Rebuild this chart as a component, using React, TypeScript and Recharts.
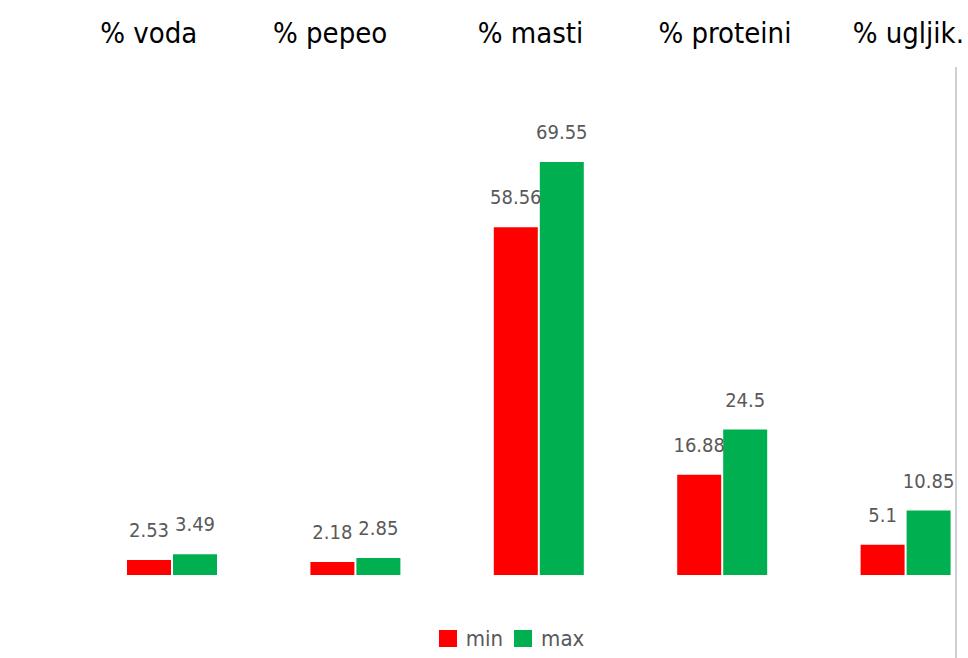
import React from "react";
import { BarChart, Bar, XAxis, YAxis, Legend, LabelList } from "recharts";

const categories = ["% voda", "% pepeo", "% masti", "% proteini", "% ugljik."];
const minValues = [2.53, 2.18, 58.56, 16.88, 5.1];
const maxValues = [3.49, 2.85, 69.55, 24.5, 10.85];
const seriesOrder = ["min", "max"];

const data = categories.map((name, i) => ({ name, min: minValues[i], max: maxValues[i] }));

const FONT = "'DejaVu Sans Condensed', 'DejaVu Sans', sans-serif";
const RED = "#FF0000";
const GREEN = "#00B050";
const LABEL = "#595959";
// the category titles in the original sit slightly off their bar groups
const tickNudge = [-23, -25, -8, 3, 3];

const CategoryTick = (props: any) => {
  const { x, y, payload, index } = props;
  return (
    <text x={x + (tickNudge[index] || 0)} y={y} textAnchor="middle" fontFamily={FONT} fontStretch="condensed" fontSize={29} fill="#000">
      {payload.value}
    </text>
  );
};

const LegendContent = (props: any) => {
  const items = [...(props.payload || [])].sort(
    (a: any, b: any) => seriesOrder.indexOf(a.value) - seriesOrder.indexOf(b.value)
  );
  return (
    <div style={{ display: "flex", justifyContent: "center", alignItems: "flex-end", height: 30, fontFamily: FONT, fontStretch: "condensed" }}>
      {items.map((p: any, i: number) => (
        <div key={i} style={{ display: "flex", alignItems: "flex-end", marginLeft: i === 0 ? 0 : 11 }}>
          <span style={{ display: "inline-block", width: 18, height: 17, background: p.color, marginRight: 9, marginBottom: 5 }} />
          <span style={{ fontSize: 22, color: LABEL, lineHeight: "26px" }}>{p.value}</span>
        </div>
      ))}
    </div>
  );
};

export default function App() {
  return (
    <div style={{ position: "absolute", left: 0, top: 0, width: 968, height: 658, overflow: "hidden", background: "#fff" }}>
      <BarChart
        width={997}
        height={658}
        data={data}
        margin={{ top: 0, right: 0, left: 80, bottom: 53 }}
        barSize={44}
        barGap={2}
      >
        <XAxis
          dataKey="name"
          orientation="top"
          height={100}
          axisLine={false}
          tickLine={false}
          tickSize={0}
          tickMargin={57}
          interval={0}
          tick={<CategoryTick />}
        />
        <YAxis hide domain={[0, 80]} />
        <Legend
          verticalAlign="bottom"
          content={<LegendContent />}
          wrapperStyle={{ position: "absolute", top: 622, left: 0, width: 1023, height: 30 }}
        />
        <Bar dataKey="min" name="min" fill={RED} isAnimationActive={false}>
          <LabelList dataKey="min" position="top" offset={23} fill={LABEL} fontSize={20} fontFamily={FONT} />
        </Bar>
        <Bar dataKey="max" name="max" fill={GREEN} isAnimationActive={false}>
          <LabelList dataKey="max" position="top" offset={23} fill={LABEL} fontSize={20} fontFamily={FONT} />
        </Bar>
      </BarChart>
      <div style={{ position: "absolute", left: 955, top: 67, width: 2, height: 591, background: "#d0d0d0" }} />
    </div>
  );
}
